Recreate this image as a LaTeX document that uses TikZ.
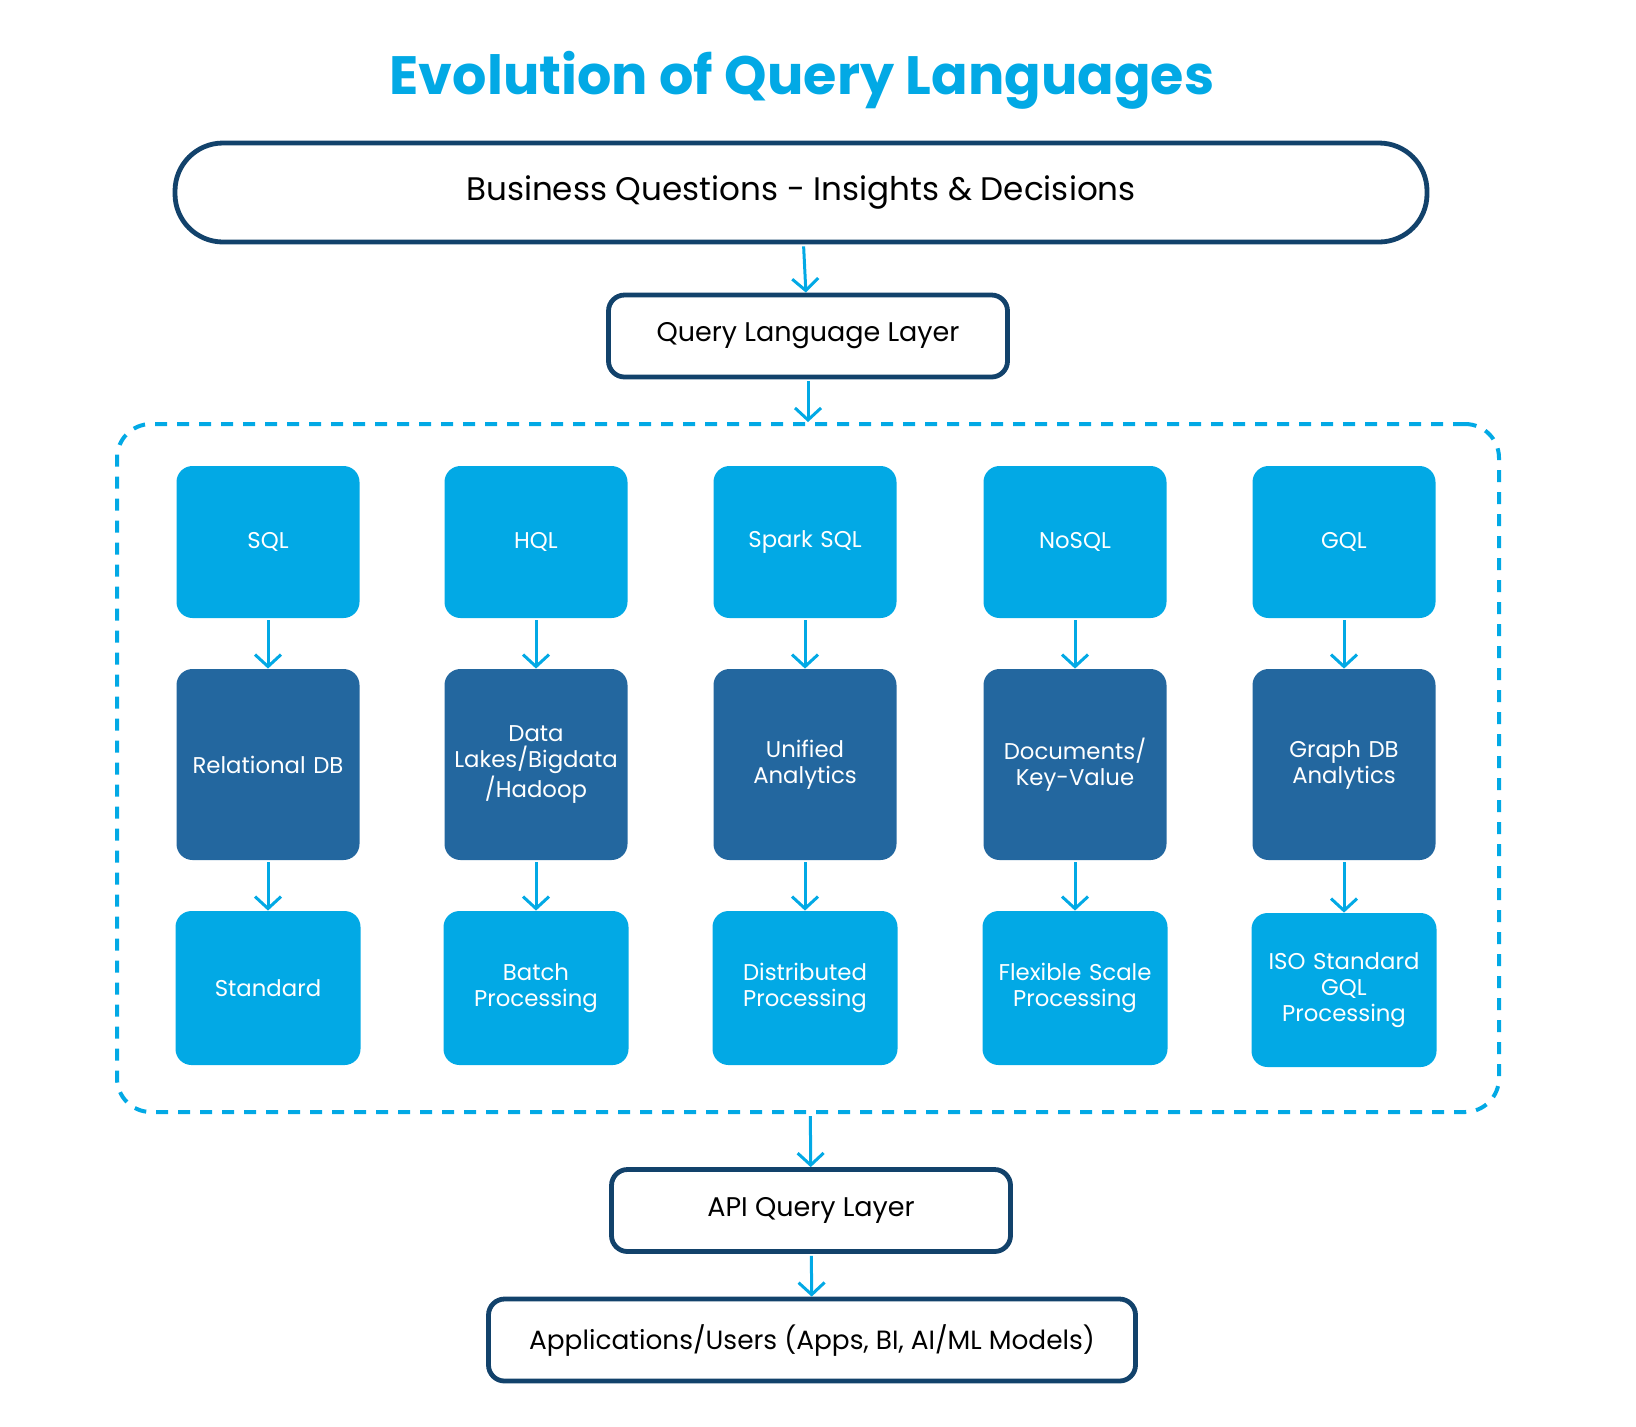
\documentclass[tikz,border=0pt]{standalone}
\usepackage{fontspec}
\setmainfont{Poppins}
\usetikzlibrary{arrows.meta}
\definecolor{skyblue}{HTML}{02A9E5}
\definecolor{deepblue}{HTML}{23679F}
\definecolor{navy}{HTML}{12426B}
\begin{document}
\begin{tikzpicture}[x=0.5pt,y=-0.5pt,
  layer/.style={draw=navy, line width=2.4pt, fill=white, rounded corners=8pt, align=center, font=\fontsize{13.5}{16}\selectfont, minimum width=199.5pt, minimum height=41pt},
  lang/.style={fill=skyblue, rounded corners=8pt, text=white, align=center, font=\fontsize{11.4}{13}\selectfont, minimum width=91.5pt, minimum height=76pt, text width=84pt},
  store/.style={lang, fill=deepblue, minimum height=95.5pt},
  mode/.style={lang, minimum width=92.5pt, minimum height=77pt},
  flow/.style={draw=skyblue, line width=1.5pt, -{Straight Barb[length=6pt, width=13pt, line width=1.5pt]}, shorten <=1pt}]
\useasboundingbox (0,0) rectangle (1636,1426);
\node[font=\fontsize{27}{31}\selectfont\bfseries, text=skyblue] (title) at (802,80) {Evolution of Query Languages};
\node[layer, rounded corners=24pt, minimum width=626pt, minimum height=49.5pt, font=\fontsize{16.3}{19}\selectfont] (biz) at (801,192.5) {Business Questions - Insights \& Decisions};
\node[layer] (qll) at (808,336) {Query Language Layer};
\node[draw=skyblue, line width=2pt, dash pattern=on 6pt off 5pt, rounded corners=17pt, minimum width=691pt, minimum height=344pt] (engines) at (808,768) {};

\node[lang] (sql) at (268,542) {SQL};
\node[store] (rdb) at (268,764.5) {Relational DB};
\node[mode] (std) at (268,988) {Standard};
\draw[flow] (sql) -- (rdb);
\draw[flow] (rdb) -- (std);

\node[lang] (hql) at (536,542) {HQL};
\node[store] (lake) at (536,764.5) {Data\\Lakes/Bigdata\\/Hadoop};
\node[mode] (batch) at (536,988) {Batch\\Processing};
\draw[flow] (hql) -- (lake);
\draw[flow] (lake) -- (batch);

\node[lang] (spark) at (805,542) {Spark SQL};
\node[store] (unified) at (805,764.5) {Unified\\Analytics};
\node[mode] (dist) at (805,988) {Distributed\\Processing};
\draw[flow] (spark) -- (unified);
\draw[flow] (unified) -- (dist);

\node[lang] (nosql) at (1075,542) {NoSQL};
\node[store] (docs) at (1075,764.5) {Documents/\\Key-Value};
\node[mode] (flex) at (1075,988) {Flexible Scale\\Processing};
\draw[flow] (nosql) -- (docs);
\draw[flow] (docs) -- (flex);

\node[lang] (gql) at (1344,542) {GQL};
\node[store] (graph) at (1344,764.5) {Graph DB\\Analytics};
\node[mode] (iso) at (1344,990) {ISO Standard\\GQL\\Processing};
\draw[flow] (gql) -- (graph);
\draw[flow] (graph) -- (iso);

\node[layer] (api) at (811,1210.5) {API Query Layer};
\node[layer, minimum width=323.5pt, font=\fontsize{13.2}{16}\selectfont] (apps) at (812,1340) {Applications/Users (Apps, BI, AI/ML Models)};
\draw[flow] (biz) -- (qll);
\draw[flow] (qll) -- (engines);
\draw[flow] (engines) -- (api);
\draw[flow] (api) -- (apps);
\end{tikzpicture}
\end{document}
